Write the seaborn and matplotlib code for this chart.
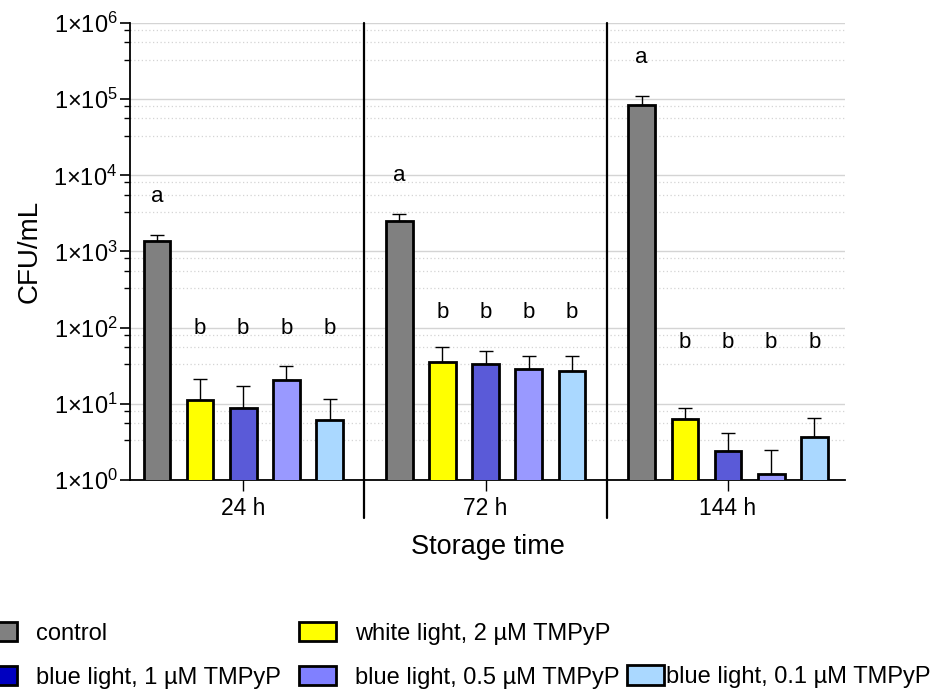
import matplotlib
matplotlib.use("Agg")
import matplotlib.pyplot as plt
import matplotlib.ticker as mticker
from matplotlib.patches import Patch
import numpy as np
import pandas as pd
import seaborn as sns

# data (CFU/mL, mean and top of error bar)
times = ["24 h", "72 h", "144 h"]
treatments = [
    "control",
    "white light, 2 \u00b5M TMPyP",
    "blue light, 1 \u00b5M TMPyP",
    "blue light, 0.5 \u00b5M TMPyP",
    "blue light, 0.1 \u00b5M TMPyP",
]
mean_24 = [1390, 11.3, 8.9, 20.7, 6.2]
upper_24 = [1650, 21, 17, 31.5, 11.6]
mean_72 = [2510, 35, 33, 29, 26.6]
upper_72 = [3100, 55, 50, 43, 43]
mean_144 = [85000, 6.3, 2.4, 1.2, 3.65]
upper_144 = [110000, 8.8, 4.2, 2.5, 6.5]
letters = ["a", "b", "b", "b", "b"]

bar_colors = ["#808080", "#FFFF00", "#5A5AD8", "#9999FF", "#AAD8FF"]
legend_colors = ["#808080", "#FFFF00", "#0000C0", "#8080FF", "#AAD8FF"]
b_level = [97, 158, 64]  # height of the "b" letters per time point

rows = []
for t, means, ups in zip(times, [mean_24, mean_72, mean_144], [upper_24, upper_72, upper_144]):
    for tr, m, u in zip(treatments, means, ups):
        rows.append({"time": t, "treatment": tr, "cfu": m, "upper": u})
df = pd.DataFrame(rows)

sns.set_style("white")
plt.rcParams["font.family"] = ["Liberation Sans", "DejaVu Sans"]
plt.rcParams["mathtext.fontset"] = "custom"
plt.rcParams["mathtext.rm"] = "Liberation Sans"
plt.rcParams["mathtext.it"] = "Liberation Sans"
for key in ["text.color", "axes.labelcolor", "xtick.color", "ytick.color"]:
    plt.rcParams[key] = "black"

fig = plt.figure(figsize=(9.38, 6.91), dpi=100)
ax = fig.add_axes([0.1386, 0.3054, 0.7624, 0.6613])

sns.barplot(
    data=df, x="time", y="cfu", hue="treatment", order=times, hue_order=treatments,
    palette=bar_colors, width=0.89, gap=0.38, errorbar=None,
    edgecolor="black", linewidth=2, saturation=1, legend=False, ax=ax, zorder=3,
)
ax.set_yscale("log")
ax.set_ylim(1, 1e6)
ax.set_xlim(-0.467, 2.483)

# error bars (upper only) from the bar positions seaborn placed
for container, tr in zip(ax.containers, treatments):
    sub = df[df["treatment"] == tr].set_index("time").loc[times]
    xs = [p.get_x() + p.get_width() / 2 for p in container.patches]
    means = sub["cfu"].to_numpy()
    ups = sub["upper"].to_numpy()
    ax.errorbar(xs, means, yerr=[np.zeros_like(means), ups - means], fmt="none",
                ecolor="black", elinewidth=1.0, capsize=5, capthick=1.0, zorder=2)
    letter = letters[treatments.index(tr)]
    for x, u, bl in zip(xs, ups, b_level):
        y = u * 10 ** 0.5 if letter == "a" else bl
        ax.text(x, y, letter, ha="center", va="center", fontsize=16)

# grid
ax.yaxis.set_major_locator(mticker.LogLocator(base=10, numticks=10))
ax.yaxis.set_minor_locator(mticker.LogLocator(base=10, subs=(3.3, 5.6, 8.1), numticks=10))
ax.yaxis.set_major_formatter(mticker.FuncFormatter(lambda v, p: r"1$\times$10$^{%d}$" % round(np.log10(v))))
ax.yaxis.set_minor_formatter(mticker.NullFormatter())
ax.grid(which="major", axis="y", color="#d4d4d4", lw=1.0, zorder=0)
ax.grid(which="minor", axis="y", color="#d4d4d4", lw=0.9, ls=(0, (1, 2)), zorder=0)
ax.set_axisbelow(True)

for s in ["top", "right"]:
    ax.spines[s].set_visible(False)
for s in ["left", "bottom"]:
    ax.spines[s].set_color("black")
    ax.spines[s].set_linewidth(1.3)

ax.tick_params(axis="y", which="major", left=True, length=7, width=1.2, labelsize=17, pad=2)
ax.tick_params(axis="y", which="minor", left=True, length=4, width=1.0)
ax.tick_params(axis="x", bottom=True, length=8, width=1.0, labelsize=16.5, pad=4)

# group separators
for xs in [0.5, 1.5]:
    ax.plot([xs, xs], [-0.083, 1.0], transform=ax.get_xaxis_transform(),
            color="black", lw=1.6, clip_on=False, zorder=4)

ax.set_xlabel("Storage time", fontsize=19.5, labelpad=10)
ax.set_ylabel("CFU/mL", fontsize=20, labelpad=8)

# legend
h = [Patch(facecolor=c, edgecolor="black", lw=2) for c in legend_colors]
fig.legend([h[0], h[2], h[1], h[3]],
           [treatments[0], treatments[2], treatments[1], treatments[3]],
           ncol=2, loc="upper left", bbox_to_anchor=(-0.021, 0.100), frameon=False,
           fontsize=17, borderpad=0, borderaxespad=0, handlelength=1.57, handleheight=0.9,
           handletextpad=0.8, columnspacing=0.75, labelspacing=0.88)
fig.legend([h[4]], [treatments[4]], loc="upper left", bbox_to_anchor=(0.668, 0.037),
           frameon=False, fontsize=17, borderpad=0, borderaxespad=0, handlelength=1.57,
           handleheight=0.9, handletextpad=0.1)

fig.savefig("out.png", dpi=100)
